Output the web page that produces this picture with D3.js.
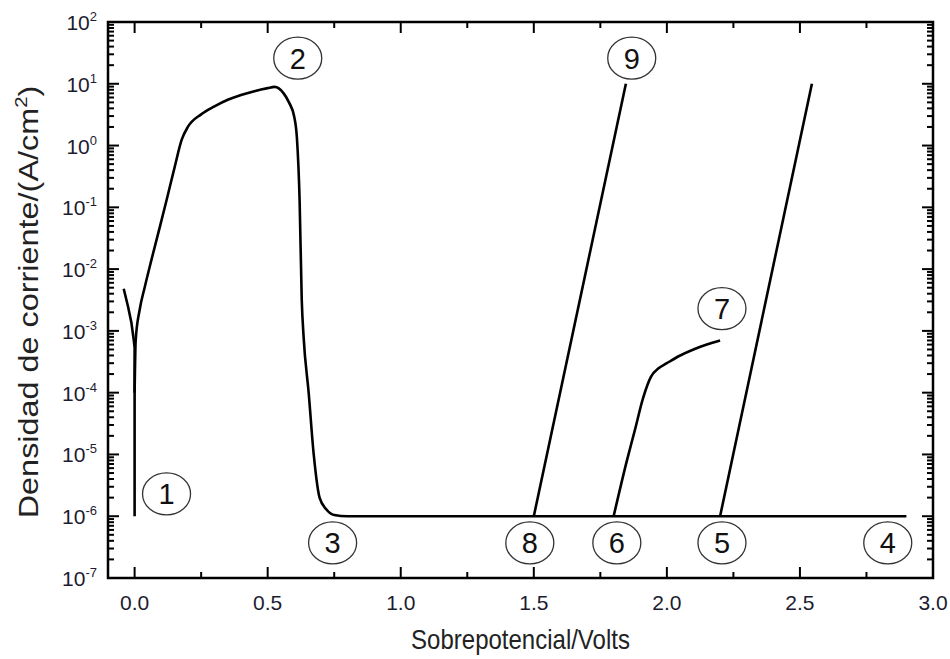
<!DOCTYPE html>
<html>
<head>
<meta charset="utf-8">
<script src="https://cdn.jsdelivr.net/npm/d3@7"></script>
<style>
  body { margin: 0; background: #fff; }
  svg { font-family: "Liberation Sans", Arial, sans-serif; }
</style>
</head>
<body>
<div id="chart"></div>
<script>
// cathodic branch (goes down into the corrosion potential at 0 V)
var cathV = [-0.041, -0.025, -0.012, -0.003, 0.0, 0.0];
var cathJ = [4.8e-3, 2.5e-3, 1.35e-3, 7e-4, 5.3e-4, 1e-6];

// anodic branch: active peak, passivation, passive plateau
var anodV = [0.0, 0.004, 0.019, 0.038, 0.063, 0.09, 0.12, 0.15, 0.177, 0.2, 0.25, 0.3, 0.35, 0.4, 0.45, 0.5, 0.526,
             0.56, 0.58, 0.6, 0.61, 0.62, 0.628, 0.635, 0.654, 0.673, 0.695, 0.72, 0.75, 0.8, 2.9];
var anodJ = [1e-4, 7e-4, 2.2e-3, 5.1e-3, 1.4e-2, 4e-2, 0.13, 0.44, 1.25, 2.0, 3.2, 4.3, 5.5, 6.6, 7.6, 8.5, 8.9,
             7.0, 5.0, 2.9, 1.3, 0.13, 3.2e-3, 8e-4, 1e-4, 1e-5, 2e-6, 1.3e-6, 1.05e-6, 1e-6, 1e-6];

// transpassive lines
var line89V = [1.5, 1.846];
var line89J = [1e-6, 10];
var line5V = [2.2, 2.545];
var line5J = [1e-6, 10];

// curve 6 -> 7
var curve67V = [1.8, 1.85, 1.88, 1.91, 1.94, 1.97, 2.0, 2.05, 2.1, 2.15, 2.2];
var curve67J = [1e-6, 8e-6, 2.5e-5, 8e-5, 1.8e-4, 2.5e-4, 3e-4, 4e-4, 5e-4, 6e-4, 7e-4];

// circled point labels
var markNames = ["1", "2", "3", "8", "6", "5", "4", "7", "9"];
var markV = [0.12, 0.613, 0.744, 1.485, 1.812, 2.207, 2.83, 2.207, 1.868];
var markJ = [2.3e-6, 26, 3.7e-7, 3.7e-7, 3.7e-7, 3.7e-7, 3.7e-7, 2.3e-3, 26];

var xTicks = [0, 0.5, 1.0, 1.5, 2.0, 2.5, 3.0];
var yExp = [-7, -6, -5, -4, -3, -2, -1, 0, 1, 2];

var width = 950, height = 659;
var margin = {top: 22, right: 17, bottom: 81, left: 108};

var svg = d3.select("#chart").append("svg")
    .attr("width", width)
    .attr("height", height);

var x = d3.scaleLinear().domain([-0.1, 3.0]).range([margin.left, width - margin.right]);
var y = d3.scaleLog().domain([1e-7, 100]).range([height - margin.bottom, margin.top]);

var x0 = margin.left, x1 = width - margin.right, y0 = height - margin.bottom, y1 = margin.top;

// ticks, drawn inward on all four sides
var ticks = svg.append("g").attr("stroke", "#000").attr("stroke-width", 2);
var xMinor = d3.range(-0.0, 3.01, 0.25);
xMinor.forEach(function(v) {
  var major = Math.abs(v * 2 - Math.round(v * 2)) < 1e-6;
  var len = major ? 11 : 6;
  ticks.append("line").attr("x1", x(v)).attr("x2", x(v)).attr("y1", y0).attr("y2", y0 - len);
  ticks.append("line").attr("x1", x(v)).attr("x2", x(v)).attr("y1", y1).attr("y2", y1 + len);
});
yExp.forEach(function(e) {
  var v = Math.pow(10, e);
  ticks.append("line").attr("x1", x0).attr("x2", x0 + 11).attr("y1", y(v)).attr("y2", y(v));
  ticks.append("line").attr("x1", x1).attr("x2", x1 - 11).attr("y1", y(v)).attr("y2", y(v));
  if (e < 2) {
    for (var k = 2; k <= 9; k++) {
      var m = k * v;
      ticks.append("line").attr("x1", x0).attr("x2", x0 + 6).attr("y1", y(m)).attr("y2", y(m));
      ticks.append("line").attr("x1", x1).attr("x2", x1 - 6).attr("y1", y(m)).attr("y2", y(m));
    }
  }
});

// frame
svg.append("rect")
    .attr("x", x0).attr("y", y1)
    .attr("width", x1 - x0).attr("height", y0 - y1)
    .attr("fill", "none").attr("stroke", "#000").attr("stroke-width", 2.5);

// x tick labels
svg.append("g").selectAll("text")
    .data(xTicks).enter()
    .append("text")
    .attr("x", function(d) { return x(d); })
    .attr("y", y0 + 32)
    .attr("text-anchor", "middle")
    .attr("font-size", 21)
    .attr("fill", "#1c1c30")
    .text(function(d) { return d.toFixed(1); });

// y tick labels 10^n
var yl = svg.append("g").selectAll("text")
    .data(yExp).enter()
    .append("text")
    .attr("x", x0 - 11)
    .attr("y", function(d) { return y(Math.pow(10, d)) + 8; })
    .attr("text-anchor", "end")
    .attr("font-size", 21)
    .attr("fill", "#1c1c30");
yl.append("tspan").text("10");
yl.append("tspan").attr("dy", -9).attr("font-size", 13).text(function(d) { return d; });

// axis titles
svg.append("text")
    .attr("transform", "translate(" + ((x0 + x1) / 2) + ",649) scale(1,1.15)")
    .attr("text-anchor", "middle")
    .attr("font-size", 24)
    .attr("fill", "#222")
    .text("Sobrepotencial/Volts");

var yt = svg.append("text")
    .attr("transform", "translate(38,302) rotate(-90) scale(1.2,1)")
    .attr("text-anchor", "middle")
    .attr("font-size", 27)
    .attr("fill", "#222");
yt.append("tspan").text("Densidad de corriente/(A/cm");
yt.append("tspan").attr("dy", -11).attr("font-size", 17).text("2");
yt.append("tspan").attr("dy", 11).text(")");

// curves
var toPts = function(vs, js) { return vs.map(function(v, i) { return [v, js[i]]; }); };
var smooth = d3.line().x(function(d) { return x(d[0]); }).y(function(d) { return y(d[1]); }).curve(d3.curveMonotoneX);
var straight = d3.line().x(function(d) { return x(d[0]); }).y(function(d) { return y(d[1]); });

var curves = svg.append("g").attr("fill", "none").attr("stroke", "#000").attr("stroke-width", 2.6).attr("stroke-linejoin", "round");
curves.append("path").attr("d", straight(toPts(cathV, cathJ)));
curves.append("path").attr("d", smooth(toPts(anodV, anodJ)));
curves.append("path").attr("d", straight(toPts(line89V, line89J)));
curves.append("path").attr("d", straight(toPts(line5V, line5J)));
curves.append("path").attr("d", smooth(toPts(curve67V, curve67J)));

// circled labels
var marks = svg.append("g").selectAll("g")
    .data(markNames).enter()
    .append("g")
    .attr("transform", function(d, i) { return "translate(" + x(markV[i]) + "," + y(markJ[i]) + ")"; });
marks.append("ellipse")
    .attr("rx", 24).attr("ry", 21)
    .attr("fill", "#fff")
    .attr("stroke", "#333").attr("stroke-width", 1.3);
marks.append("text")
    .attr("text-anchor", "middle")
    .attr("y", 10.5)
    .attr("font-size", 29)
    .attr("fill", "#111")
    .text(function(d) { return d; });
</script>
</body>
</html>
